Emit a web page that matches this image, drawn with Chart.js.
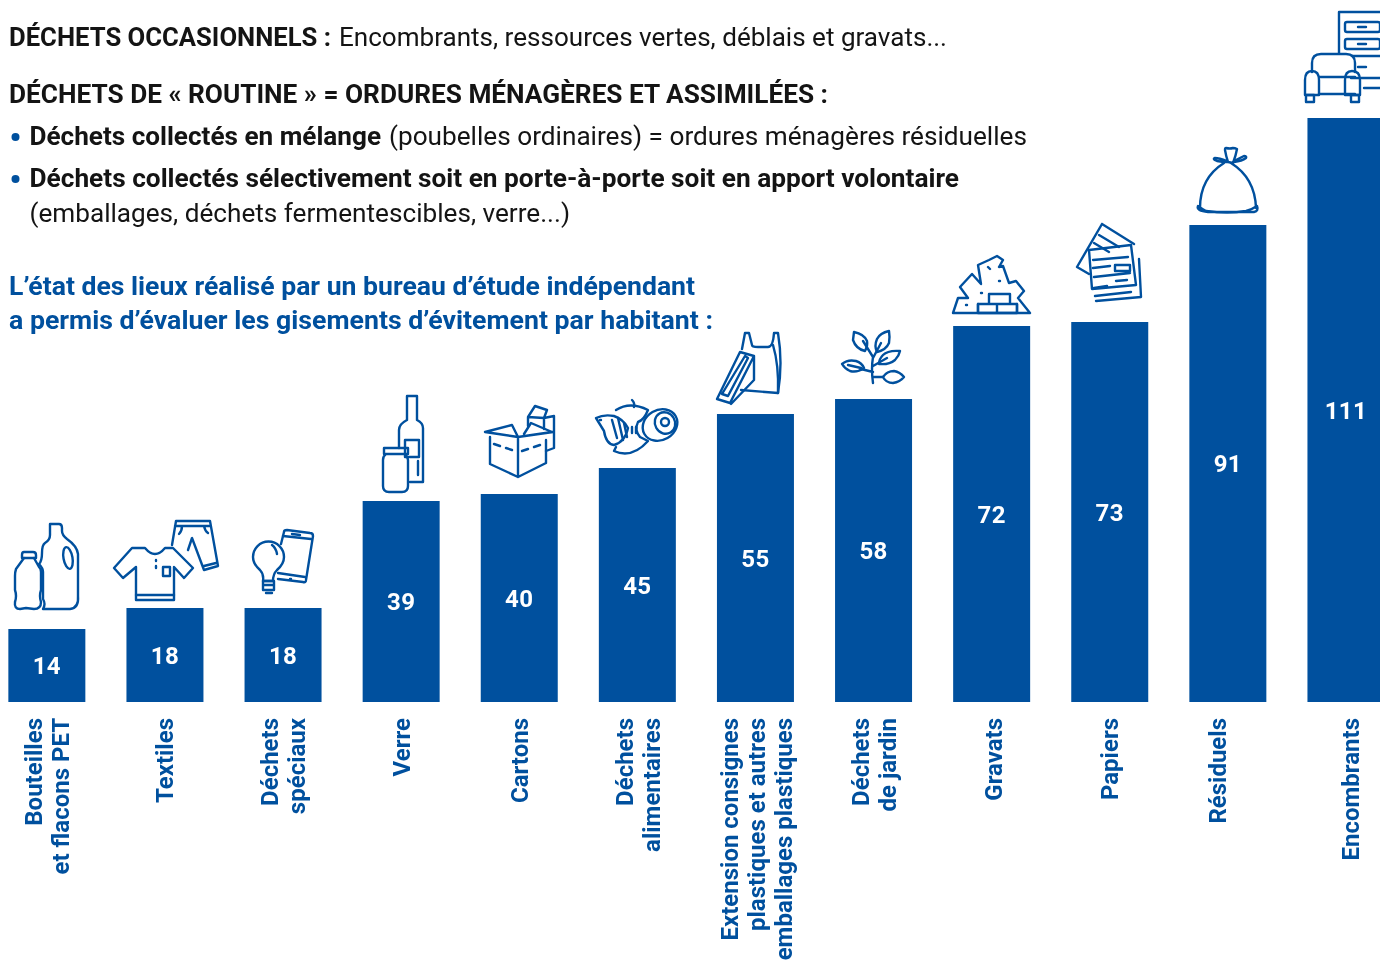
<!DOCTYPE html>
<html lang="fr">
<head>
<meta charset="utf-8">
<title>Gisements d'évitement par habitant</title>
<script src="https://cdn.jsdelivr.net/npm/chart.js@4"></script>
<style>
  html, body { margin: 0; padding: 0; width: 1380px; height: 961px; overflow: hidden; background: #fff; }
  #wrap { position: absolute; left: -13px; top: 0; }
  #overlay { position: absolute; left: 0; top: 0; }
  #overlay text { font-family: Roboto, sans-serif; font-size: 25.5px; }
  #icons path, #icons circle, #icons ellipse, #icons rect { fill: none; stroke: #00509e; stroke-width: 2.4; stroke-linejoin: round; stroke-linecap: round; }
</style>
</head>
<body>
<div id="wrap"><canvas id="chart" width="1418" height="1040"></canvas></div>
<svg id="overlay" width="1380" height="961" xmlns="http://www.w3.org/2000/svg">
  <g id="head"></g>
  <circle cx="15.5" cy="137" r="4" fill="#00509e"></circle>
  <circle cx="15.5" cy="179" r="4" fill="#00509e"></circle>
  <g id="icons">
    <!-- bouteilles -->
    <path d="M24 552h9q3 0 3 3v3H22v-3q0-3 2-3z"/>
    <path d="M24 558l-8 11q-1 3-1 7v14q2 6 0 12q-1 7 5 7l6-1l8 1q7 0 7-7q-2-6 0-12V572q0-3-2-5l-5-9"/>
    <path d="M50 524h9q3 0 3 4v3q0 4 5 8q10 7 11 15v42q1 12-8 13H43q3-5 0-10V572q0-4-4-8q3-3 3-11q0-8 3-10q5-3 5-8z"/>
    <ellipse cx="68" cy="558" rx="4.5" ry="11" transform="rotate(-10 68 558)"/>
    <!-- textiles -->
    <path d="M145 548q10 12 20 0h8l20 20l-9 10l-10-11v33h-38v-33l-13 11l-9-10l18-20z"/>
    <path d="M136 595h38M163 567h7v9h-7zM156 560v1M156 566v2"/>
    <path d="M172 545l4-24h34l8 45l-14 4l-12-32l-4 12M175 526h35M182 526q0 5-3 8M204 526q1 5 4 7M204 566l12-3"/>
    <!-- speciaux -->
    <path d="M281 544l3-12q0-2 3-2l23 3q3 0 3 3l-7 44q0 3-3 2l-25-3"/>
    <path d="M283 536l28 3M278 573l27 4M292 534l8 1M290 579h1"/>
    <path d="M263 581q1-7-3-11q-7-6-7-13a15.500 15.500 0 0 1 31 0q0 7-7 13q-4 4-4 11z"/>
    <path d="M263 581h11v9h-11zM264 585h9M266 593h6M272 545q4 3 5 9"/>
    <!-- verre -->
    <path d="M407 396h10v24q6 3 6 8v54h-13M407 396v24q-8 4-8 10v18"/>
    <path d="M405 440h14v17h-14zM418 461v14"/>
    <path d="M384 448h24v6H384zM386 454q-3 2-3 6v26q0 6 6 6h13q6 0 6-6V460q0-3-3-6"/>
    <!-- cartons -->
    <path d="M485 432l27-7l6 12zM518 437l34-5l-21-9l-7 11M485 432l33 5l35-5M490 437v27l28 13l28-14V440M518 437v40"/>
    <path d="M494 444l6 2M506 448l6 2M522 451l6-2M534 447l6-2" />
    <path d="M528 417l7-11l12 4l-3 8M528 417v9M528 417l16 1l10-2v32l-8 3M544 418v11"/>
    <!-- alimentaires -->
    <path d="M596 418q8-4 18-2q9 3 14 12q-3 14-14 17q-8-1-10-14z"/>
    <path d="M612 420l5 18M618 418l5 22M624 423l3 14M600 420h1"/>
    <path d="M616 410q14-9 32 0q-4 10-10 12q-4 8 2 15l8 4q-16 18-34 10l2-4"/>
    <path d="M632 400q3 3 2 7M632 427v6M636 427v6"/>
    <ellipse cx="660" cy="425" rx="18" ry="15" transform="rotate(-30 660 425)"/>
    <ellipse cx="665" cy="423" rx="10" ry="11" transform="rotate(-30 665 423)"/>
    <circle cx="665" cy="422" r="4"/>
    <!-- extension -->
    <path d="M745 333l-3 16M745 333h4l3 12q0 2 6 2h10q5 0 6-14h4q5 30 0 60l-37-3"/>
    <path d="M773 345q6 20 5 48"/>
    <path d="M740 352l14 4l-24 47l-13-4zM745 356l3 2l-20 38l-6-2zM754 356l0 24l-23 24"/>
    <!-- jardin -->
    <path d="M873 383q-2-14 0-26l-10-16M873 358l8-15M873 366l14-8M873 377h10M873 372l-12-3"/>
    <path d="M854 332q10 2 13 9q1 5-2 10q-9-2-12-11z"/>
    <path d="M889 331q-9 2-12 8q-3 7 0 13q9-2 12-9q1-6 0-12z"/>
    <path d="M900 351q-12-1-17 4q-4 4-4 9q10 1 16-4q4-4 5-9z"/>
    <path d="M842 364q6-5 14-3q6 2 8 7q-7 5-14 3q-5-2-8-7z"/>
    <path d="M883 377q4-6 11-6q6 1 10 6q-4 5-11 6q-7 0-10-6zM848 365l13 3"/>
    <!-- gravats -->
    <path d="M953 313l5-15h10l-8-11l12-13l9 10l-3-19l11-5l8-4l6 4l-4 7l4-1l6 17l7-2l8 10l-6 7l12 15zM978 304v9M1017 304v9"/>
    <path d="M978 304h39v9h-39zM997 304v9M989 294h21v10h-21zM988 267l2 2M999 281h1M981 293h1M966 305h1"/>
    <!-- papiers -->
    <path d="M1102 224l32 20M1102 224l-25 43l12 7M1099 235l20 12M1094 243l15 9"/>
    <path d="M1089 250l42-5l5 40l-44 4zM1093 260l35-3M1093 268l17-2M1115 265h15v6h-15zM1094 277l36-4M1094 288l13-2M1095 296l36-4M1116 281l11-1M1096 301l45-4l-2-38"/>
    <!-- residuels -->
    <path d="M1226 148q4 1 7 0q2 0 4 1q-1 6-4 14l-5-1q-2-6-3-12q0-2 1-2zM1227 161q-8-3-12-3q-3 1 2 3q5 1 10 1zM1234 161q6-3 10-5q3 0 2 2q-4 3-12 4"/>
    <path d="M1224 163q-24 15-24 45M1231 163q24 15 25 45M1198 206q4 3 8 5q22 3 40 0q5-1 11-5q2 5-3 6h-46q-12-1-10-6z"/>
    <!-- encombrants -->
    <path d="M1339 53V12h50M1364 88h25"/>
    <rect x="1345" y="22" width="35" height="10" rx="2"/>
    <rect x="1345" y="39" width="35" height="10" rx="2"/>
    <path d="M1352 56h28q4 0 4 4v14q0 4-4 4h-29M1358 27h8M1358 44h8M1358 67h8"/>
    <path d="M1312 72v-9q0-9 9-9h25q9 0 9 9v9M1319 77h36M1319 94h36"/>
    <path d="M1305 95V80q0-9 7-9q7 0 7 9v15zM1345 95V80q0-9 7-9q8 0 8 9v15z"/>
    <path d="M1306 95h8v7h-8zM1351 95h8v7h-8z"/>
  </g>
</svg>
<script>
// valeurs (hauteurs de barres) et valeurs imprimées
const categories = [
  ["Bouteilles", "et flacons PET"],
  ["Textiles"],
  ["Déchets", "spéciaux"],
  ["Verre"],
  ["Cartons"],
  ["Déchets", "alimentaires"],
  ["Extension consignes", "plastiques et autres", "emballages plastiques"],
  ["Déchets", "de jardin"],
  ["Gravats"],
  ["Papiers"],
  ["Résiduels"],
  ["Encombrants"]
];
const barValues = [13.96, 17.97, 17.97, 38.43, 39.77, 44.74, 55.07, 57.93, 71.89, 72.66, 91.2, 111.66];
const printedValues = ["14", "18", "18", "39", "40", "45", "55", "58", "72", "73", "91", "111"];

const BLUE = "#00509e";
const DARK = "#141414";

// [x, ligne de base, largeur, gras, couleur, texte]
const headerLines = [
  [9, 46, 322, 700, DARK, "DÉCHETS OCCASIONNELS :"],
  [339, 46, 608, 400, DARK, "Encombrants, ressources vertes, déblais et gravats..."],
  [9, 103, 819, 700, DARK, "DÉCHETS DE « ROUTINE » = ORDURES MÉNAGÈRES ET ASSIMILÉES :"],
  [29.5, 145, 351.5, 700, DARK, "Déchets collectés en mélange"],
  [389, 145, 638, 400, DARK, "(poubelles ordinaires) = ordures ménagères résiduelles"],
  [29.5, 187, 929.5, 700, DARK, "Déchets collectés sélectivement soit en porte-à-porte soit en apport volontaire"],
  [29.5, 222, 540.5, 400, DARK, "(emballages, déchets fermentescibles, verre...)"],
  [9, 295, 686, 700, BLUE, "L’état des lieux réalisé par un bureau d’étude indépendant"],
  [9, 329, 704, 700, BLUE, "a permis d’évaluer les gisements d’évitement par habitant :"]
];

const head = document.getElementById("head");
headerLines.forEach(l => {
  const t = document.createElementNS("http://www.w3.org/2000/svg", "text");
  t.setAttribute("x", l[0]);
  t.setAttribute("y", l[1]);
  t.setAttribute("textLength", l[2]);
  t.setAttribute("lengthAdjust", "spacingAndGlyphs");
  t.setAttribute("font-weight", l[3]);
  t.setAttribute("fill", l[4]);
  t.textContent = l[5];
  head.appendChild(t);
});

// chiffres blancs au milieu des barres
const barLabels = {
  id: "barLabels",
  afterDatasetsDraw(chart) {
    const ctx = chart.ctx;
    const bars = chart.getDatasetMeta(0).data;
    ctx.save();
    ctx.fillStyle = "#fff";
    ctx.font = "700 24px Roboto";
    ctx.letterSpacing = "0.4px";
    ctx.textAlign = "center";
    ctx.textBaseline = "middle";
    bars.forEach((b, i) => {
      ctx.fillText(printedValues[i], b.x, (b.y + b.base) / 2 + 3);
    });
    ctx.restore();
  }
};

// libellés verticaux : l'original décale certains blocs par rapport à la barre
const labelNudge = [0, 0, 0, 0, 0, 1, 1, 0, 2, 0, -10, 5];
const rotatedTicks = {
  id: "rotatedTicks",
  afterDraw(chart) {
    const ctx = chart.ctx;
    const x = chart.scales.x;
    const top = x.top + 16;
    const lineH = 27;
    ctx.save();
    ctx.fillStyle = BLUE;
    ctx.font = "700 24px Roboto";
    ctx.textAlign = "right";
    ctx.textBaseline = "alphabetic";
    categories.forEach((lines, i) => {
      const cx = x.getPixelForValue(i) + labelNudge[i];
      lines.forEach((line, k) => {
        const base = cx + (k - (lines.length - 1) / 2) * lineH + 8.5;
        ctx.save();
        ctx.translate(base, top);
        ctx.rotate(-Math.PI / 2);
        ctx.fillText(line, 0, 0);
        ctx.restore();
      });
    });
    ctx.restore();
  }
};

new Chart(document.getElementById("chart"), {
  type: "bar",
  data: {
    labels: categories.map(c => c.join(" ")),
    datasets: [{ data: barValues, backgroundColor: BLUE, barPercentage: 77 / 118.1, categoryPercentage: 1 }]
  },
  options: {
    responsive: false,
    animation: false,
    layout: { padding: { left: 0.8, right: 0, top: 22, bottom: 0 } },
    plugins: { legend: { display: false }, tooltip: { enabled: false } },
    scales: {
      y: { display: false, min: 0, max: 130 },
      x: {
        grid: { display: false, drawTicks: false },
        border: { display: false },
        ticks: { display: false },
        afterFit(scale) { scale.height = 338; }
      }
    }
  },
  plugins: [barLabels, rotatedTicks]
});
</script>
</body>
</html>
